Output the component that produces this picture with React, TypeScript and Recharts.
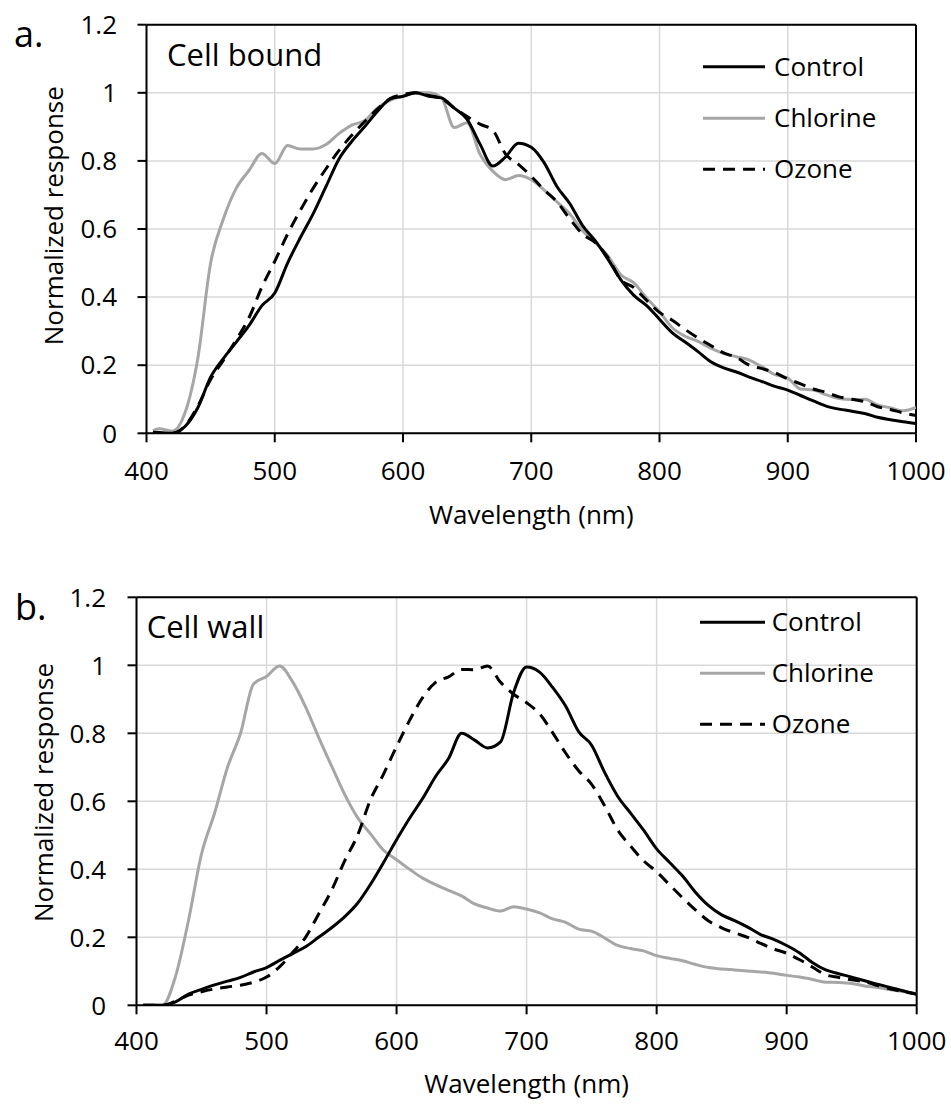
import React from "react";
import {
  LineChart,
  Line,
  XAxis,
  YAxis,
  CartesianGrid,
  ReferenceLine,
} from "recharts";

// wavelength grid (nm) shared by all series
const wavelengths = [
  405, 410, 420, 430, 440, 450, 460, 470, 480, 490,
  500, 510, 520, 530, 540, 550, 560, 570, 580, 590,
  600, 610, 620, 630, 640, 650, 660, 670, 680, 690,
  700, 710, 720, 730, 740, 750, 760, 770, 780, 790,
  800, 810, 820, 830, 840, 850, 860, 870, 880, 890,
  900, 910, 920, 930, 940, 950, 960, 970, 980, 990,
  1000,
];

// a. Cell bound
const boundControl = [
  0.003, 0.002, 0.0, 0.02, 0.075, 0.165, 0.22, 0.268, 0.317, 0.375,
  0.412, 0.5, 0.575, 0.645, 0.725, 0.805, 0.857, 0.9, 0.945, 0.982,
  0.99, 1.0, 0.99, 0.985, 0.955, 0.922, 0.85, 0.785, 0.812, 0.852,
  0.84, 0.795, 0.725, 0.675, 0.61, 0.565, 0.51, 0.45, 0.405, 0.375,
  0.335, 0.295, 0.268, 0.24, 0.21, 0.192, 0.18, 0.165, 0.152, 0.138,
  0.127, 0.111, 0.095, 0.08, 0.071, 0.065, 0.058, 0.047, 0.04, 0.034,
  0.029,
];
const boundChlorine = [
  0.008, 0.013, 0.006, 0.06, 0.22, 0.5, 0.63, 0.72, 0.772, 0.822,
  0.792, 0.845, 0.835, 0.835, 0.848, 0.88, 0.905, 0.918, 0.955, 0.978,
  0.99, 1.0, 1.0, 0.985, 0.898, 0.912, 0.82, 0.77, 0.745, 0.757,
  0.745, 0.715, 0.68, 0.645, 0.595, 0.56, 0.52, 0.465, 0.442, 0.397,
  0.357, 0.31, 0.285, 0.27, 0.25, 0.234, 0.225, 0.215, 0.195, 0.172,
  0.162, 0.13, 0.127, 0.113, 0.102, 0.099, 0.1, 0.083, 0.075, 0.066,
  0.076,
];
const boundOzone = [
  0.0, 0.0, 0.0, 0.022, 0.08, 0.158, 0.215, 0.275, 0.34, 0.43,
  0.505, 0.585, 0.655, 0.72, 0.777, 0.83, 0.875, 0.915, 0.952, 0.983,
  0.995, 1.0, 0.992, 0.983, 0.955, 0.93, 0.908, 0.89, 0.82, 0.79,
  0.755, 0.715, 0.68, 0.63, 0.585, 0.56, 0.515, 0.45, 0.428, 0.39,
  0.355, 0.332, 0.305, 0.28, 0.258, 0.236, 0.223, 0.2, 0.19, 0.178,
  0.16, 0.145, 0.13, 0.12, 0.107, 0.1, 0.093, 0.078, 0.07, 0.06,
  0.052,
];

// b. Cell wall
const wallControl = [
  0.0, 0.0, 0.0, 0.01, 0.033, 0.047, 0.06, 0.071, 0.082, 0.098,
  0.111, 0.132, 0.152, 0.172, 0.2, 0.228, 0.26, 0.3, 0.356, 0.42,
  0.487, 0.55, 0.608, 0.673, 0.726, 0.8, 0.78, 0.757, 0.775, 0.92,
  0.995, 0.98, 0.935, 0.88, 0.805, 0.765, 0.685, 0.615, 0.565, 0.515,
  0.46, 0.42, 0.38, 0.332, 0.293, 0.266, 0.249, 0.23, 0.208, 0.194,
  0.176, 0.154, 0.125, 0.104, 0.093, 0.083, 0.072, 0.062, 0.052, 0.042,
  0.032,
];
const wallChlorine = [
  0.0, 0.0, 0.0, 0.085, 0.25, 0.445, 0.565, 0.7, 0.8, 0.945,
  0.967, 0.998, 0.952, 0.878, 0.789, 0.704, 0.621, 0.552, 0.504, 0.456,
  0.428, 0.4, 0.374, 0.355, 0.338, 0.322, 0.298, 0.286, 0.277, 0.29,
  0.283, 0.272, 0.254, 0.244, 0.224, 0.218, 0.198, 0.176, 0.167, 0.16,
  0.146, 0.138, 0.131, 0.12, 0.111, 0.107, 0.104, 0.101, 0.098, 0.094,
  0.088, 0.083, 0.076, 0.068, 0.067, 0.064, 0.057, 0.052, 0.046, 0.04,
  0.035,
];
const wallOzone = [
  0.0, 0.0, 0.0, 0.012, 0.03, 0.04, 0.048, 0.054, 0.059, 0.068,
  0.083, 0.113, 0.155, 0.2, 0.268, 0.338, 0.424, 0.5, 0.605, 0.68,
  0.761, 0.838, 0.905, 0.95, 0.966, 0.988, 0.987, 0.998, 0.95, 0.915,
  0.89, 0.857, 0.802, 0.742, 0.69, 0.65, 0.587, 0.516, 0.468, 0.425,
  0.393, 0.354, 0.316, 0.28, 0.248, 0.228, 0.213, 0.2, 0.182, 0.166,
  0.153, 0.134, 0.112, 0.09, 0.082, 0.075, 0.069, 0.058, 0.048, 0.04,
  0.033,
];

const xTicks = [400, 500, 600, 700, 800, 900, 1000];
const yTicks = [0, 0.2, 0.4, 0.6, 0.8, 1, 1.2];

const FONT = '"Open Sans", sans-serif';
const GRAY = "#a6a6a6";
const LINE_W = 3;

const series = [
  { key: "chlorine", name: "Chlorine", color: GRAY, dash: undefined },
  { key: "control", name: "Control", color: "#000000", dash: undefined },
  { key: "ozone", name: "Ozone", color: "#000000", dash: "12 8" },
];
const legendOrder = ["control", "chlorine", "ozone"];

function buildRows(control: number[], chlorine: number[], ozone: number[]) {
  return wavelengths.map((wl, i) => ({
    wl,
    control: control[i],
    chlorine: chlorine[i],
    ozone: ozone[i],
  }));
}

const boundRows = buildRows(boundControl, boundChlorine, boundOzone);
const wallRows = buildRows(wallControl, wallChlorine, wallOzone);

interface PanelProps {
  data: Array<Record<string, number>>;
  top: number;
  height: number;
  plotLeft: number;
  plotRight: number;
  plotTop: number;
  plotBottom: number;
  yTickMargin: number;
  xTickMargin: number;
}

function Panel(p: PanelProps) {
  const tickStyle = { fill: "#000", fontSize: 26, fontFamily: FONT };
  return (
    <div style={{ position: "absolute", left: 0, top: p.top }}>
      <LineChart
        width={951}
        height={p.height}
        data={p.data}
        margin={{
          top: p.plotTop - p.top,
          right: 951 - p.plotRight,
          left: 0,
          bottom: 0,
        }}
      >
        <CartesianGrid stroke="#d9d9d9" strokeWidth={1.5} />
        <XAxis
          dataKey="wl"
          type="number"
          domain={[400, 1000]}
          ticks={xTicks}
          allowDataOverflow
          height={p.height - (p.plotBottom - p.top)}
          tickSize={9}
          tickMargin={p.xTickMargin}
          axisLine={{ stroke: "#000", strokeWidth: 2 }}
          tickLine={{ stroke: "#000", strokeWidth: 2 }}
          tick={tickStyle}
        />
        <YAxis
          type="number"
          domain={[0, 1.2]}
          ticks={yTicks}
          allowDataOverflow
          width={p.plotLeft}
          tickSize={9}
          tickMargin={p.yTickMargin}
          axisLine={{ stroke: "#000", strokeWidth: 2 }}
          tickLine={{ stroke: "#000", strokeWidth: 2 }}
          tick={tickStyle}
        />
        <ReferenceLine y={1.2} stroke="#000" strokeWidth={2} />
        <ReferenceLine x={1000} stroke="#000" strokeWidth={2} />
        {series.map((s) => (
          <Line
            key={s.key}
            dataKey={s.key}
            name={s.name}
            type="monotone"
            stroke={s.color}
            strokeWidth={LINE_W}
            strokeDasharray={s.dash}
            dot={false}
            activeDot={false}
            isAnimationActive={false}
          />
        ))}
      </LineChart>
    </div>
  );
}

function LegendBlock({ x1, x2, textX, ys }: { x1: number; x2: number; textX: number; ys: number[] }) {
  return (
    <g>
      {legendOrder.map((k, i) => {
        const s = series.find((d) => d.key === k)!;
        return (
          <g key={k}>
            <line
              x1={x1}
              x2={x2}
              y1={ys[i]}
              y2={ys[i]}
              stroke={s.color}
              strokeWidth={LINE_W}
              strokeDasharray={s.dash}
            />
            <text x={textX} y={ys[i] + 9} fontSize={26} fontFamily={FONT} fill="#000">
              {s.name}
            </text>
          </g>
        );
      })}
    </g>
  );
}

export default function App() {
  return (
    <div
      style={{
        position: "absolute",
        left: 0,
        top: 0,
        width: 951,
        height: 1104,
        background: "#fff",
        overflow: "hidden",
      }}
    >
      <Panel
        data={boundRows}
        top={0}
        height={540}
        plotLeft={146.5}
        plotRight={916}
        plotTop={24.7}
        plotBottom={433.3}
        yTickMargin={20.5}
        xTickMargin={19.4}
      />
      <Panel
        data={wallRows}
        top={560}
        height={544}
        plotLeft={136.5}
        plotRight={916.7}
        plotTop={597.3}
        plotBottom={1005.3}
        yTickMargin={21.5}
        xTickMargin={17.7}
      />
      <svg
        width={951}
        height={1104}
        style={{ position: "absolute", left: 0, top: 0, pointerEvents: "none" }}
      >
        <g fontFamily={FONT} fill="#000">
          <text x={14} y={46.7} fontSize={36}>a.</text>
          <text x={167} y={66} fontSize={31}>Cell bound</text>
          <text
            transform="translate(63.3,215.7) rotate(-90)"
            textAnchor="middle"
            fontSize={26}
          >
            Normalized response
          </text>
          <text x={531.3} y={524} textAnchor="middle" fontSize={26}>
            Wavelength (nm)
          </text>

          <text x={15} y={620} fontSize={36}>b.</text>
          <text x={146.7} y={638.3} fontSize={31}>Cell wall</text>
          <text
            transform="translate(53.3,792.5) rotate(-90)"
            textAnchor="middle"
            fontSize={26}
          >
            Normalized response
          </text>
          <text x={526.6} y={1092.7} textAnchor="middle" fontSize={26}>
            Wavelength (nm)
          </text>
        </g>
        <LegendBlock x1={703} x2={765} textX={774} ys={[66.7, 118.3, 169.3]} />
        <LegendBlock x1={700} x2={765} textX={771.7} ys={[622.3, 673.3, 724.3]} />
      </svg>
    </div>
  );
}
